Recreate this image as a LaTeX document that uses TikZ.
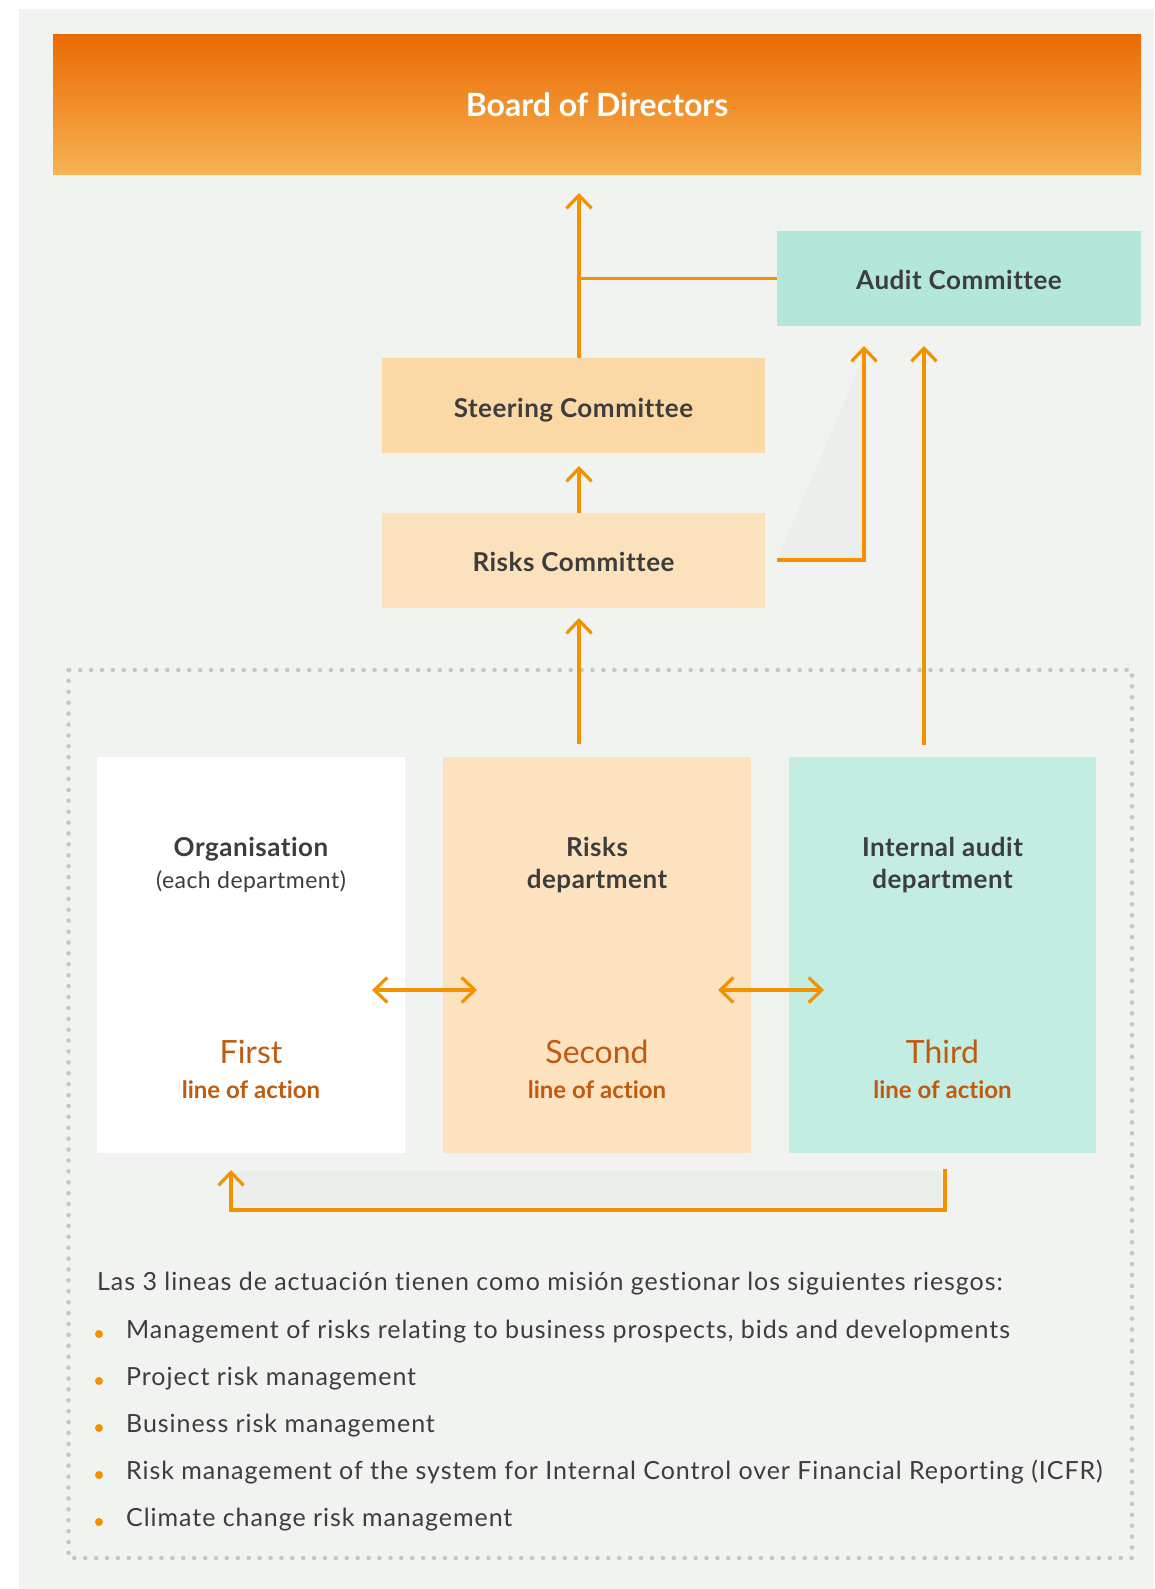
\documentclass[tikz,border=0pt]{standalone}
\usepackage{fontspec}
\setmainfont{Lato}[Ligatures=NoCommon]
\usetikzlibrary{arrows.meta}
\definecolor{bg}{HTML}{F1F3F0}
\definecolor{shadec}{HTML}{ECEEEC}
\definecolor{boardtop}{HTML}{EA6A04}
\definecolor{boardbot}{HTML}{F7B352}
\definecolor{auditc}{HTML}{B3E7DA}
\definecolor{steerc}{HTML}{FBD9A6}
\definecolor{riskcc}{HTML}{FCE1BD}
\definecolor{riskdc}{HTML}{FCE2BF}
\definecolor{intc}{HTML}{C3ECE2}
\definecolor{arrowc}{HTML}{F39200}
\definecolor{darktxt}{HTML}{3D3D3D}
\definecolor{linetxt}{HTML}{C05A0E}
\definecolor{dotc}{HTML}{BCCBC4}
\tikzset{
  box/.style={inner sep=0pt, outer sep=0pt, draw=none},
  title/.style={inner sep=0pt, anchor=base, text=darktxt, font=\fontsize{26}{30}\selectfont\bfseries\addfontfeatures{LetterSpace=2}},
  subtitle/.style={inner sep=0pt, anchor=base, text=darktxt, font=\fontsize{23}{27}\selectfont\addfontfeatures{LetterSpace=2}},
  ordinal/.style={inner sep=0pt, anchor=base, text=linetxt, font=\fontsize{32}{36}\selectfont},
  lineact/.style={inner sep=0pt, anchor=base, text=linetxt, font=\fontsize{24}{28}\selectfont\bfseries},
  listtxt/.style={inner sep=0pt, anchor=base west, text=darktxt, font=\fontsize{25}{29}\selectfont\addfontfeatures{LetterSpace=3.8}},
  conn/.style={draw=arrowc, line width=3.2pt},
  arr/.style={conn, -{Straight Barb[length=13pt,width=25pt]}},
  biarr/.style={conn, {Straight Barb[length=13pt,width=25pt]}-{Straight Barb[length=13pt,width=25pt]}},
  bulletdot/.style={fill=arrowc, draw=none}
}
\begin{document}
\begin{tikzpicture}[x=1pt,y=-1pt]
\useasboundingbox (0,0) rectangle (1154,1589);
\fill[white] (0,0) rectangle (1154,1589);
\fill[bg] (19,9) rectangle (1154,1589);

% subtle shading shapes
\fill[shadec] (777,560) -- (862,360) -- (862,560) -- cycle;
\fill[shadec] (236,1171) rectangle (942,1207);

% dotted frame
\draw[dotc, line width=4.5pt, line cap=round, dash pattern=on 0pt off 10.9pt] (68.5,670) rectangle (1132,1558);

% boxes
\node[box, top color=boardtop, bottom color=boardbot, minimum width=1088pt, minimum height=140pt] (board) at (597,105) {};
\node[box, fill=auditc, minimum width=364pt, minimum height=95pt] (audit) at (959,278.5) {};
\node[box, fill=steerc, minimum width=383pt, minimum height=95pt] (steer) at (573.5,405.5) {};
\node[box, fill=riskcc, minimum width=383pt, minimum height=95pt] (riskc) at (573.5,560.5) {};
\node[box, fill=white, minimum width=308pt, minimum height=396pt] (org) at (251,955) {};
\node[box, fill=riskdc, minimum width=308pt, minimum height=396pt] (riskd) at (597,955) {};
\node[box, fill=intc, minimum width=307pt, minimum height=396pt] (intd) at (942.5,955) {};

% texts
\node[title, text=white, font=\fontsize{32}{38}\selectfont\bfseries] (boardt) at (597,117) {Board of Directors};
\node[title] (auditt) at (959,289) {Audit Committee};
\node[title] (steert) at (573.5,417) {Steering Committee};
\node[title] (riskct) at (573.5,571) {Risks Committee};

\node[title] (orgt) at (251,856) {Organisation};
\node[subtitle] (orgs) at (251,888) {(each department)};
\node[title] (riskdt1) at (597,856) {Risks};
\node[title] (riskdt2) at (597,888) {department};
\node[title] (intt1) at (942.5,856) {Internal audit};
\node[title] (intt2) at (942.5,888) {department};

\node[ordinal] (o1) at (251,1063) {First};
\node[lineact] (l1) at (251,1098) {line of action};
\node[ordinal] (o2) at (597,1063) {Second};
\node[lineact] (l2) at (597,1098) {line of action};
\node[ordinal] (o3) at (942.5,1063) {Third};
\node[lineact] (l3) at (942.5,1098) {line of action};

% connector coordinates
\coordinate (steertip) at (579,193);
\coordinate (rstip) at (579,466);
\coordinate (rcstart) at (777,560);
\coordinate (a1tip) at (864,346);
\coordinate (a2tip) at (924,346);
\coordinate (a2start) at (924,745);
\coordinate (rdstart) at (579,744);
\coordinate (rdtip) at (579,618);
\coordinate (d1a) at (372,990);
\coordinate (d1b) at (477,990);
\coordinate (d2a) at (718,990);
\coordinate (d2b) at (824,990);
\coordinate (bstart) at (945,1169);
\coordinate (bcorner) at (231,1210);
\coordinate (btip) at (231,1170);

% connectors
\draw[arr] (steertip |- steer.north) -- (steertip);
\draw[conn] (steertip |- audit.west) -- (audit.west);
\draw[arr] (rstip |- riskc.north) -- (rstip);
\draw[arr, line join=miter] (rcstart) -| (a1tip);
\draw[arr] (a2start) -- (a2tip);
\draw[arr] (rdstart) -- (rdtip);
\draw[biarr] (d1a) -- (d1b);
\draw[biarr] (d2a) -- (d2b);
\draw[arr, line join=miter] (bstart) |- (bcorner) -- (btip);

% list
\node[listtxt] (intro) at (97,1290) {Las 3 lineas de actuación tienen como misión gestionar los siguientes riesgos:};
\fill[bulletdot] (99,1334) circle (4pt);
\node[listtxt] (li1) at (126,1338) {Management of risks relating to business prospects, bids and developments};
\fill[bulletdot] (99,1381) circle (4pt);
\node[listtxt] (li2) at (126,1385) {Project risk management};
\fill[bulletdot] (99,1428) circle (4pt);
\node[listtxt] (li3) at (126,1432) {Business risk management};
\fill[bulletdot] (99,1475) circle (4pt);
\node[listtxt] (li4) at (126,1479) {Risk management of the system for Internal Control over Financial Reporting (ICFR)};
\fill[bulletdot] (99,1522) circle (4pt);
\node[listtxt] (li5) at (126,1526) {Climate change risk management};
\end{tikzpicture}
\end{document}
